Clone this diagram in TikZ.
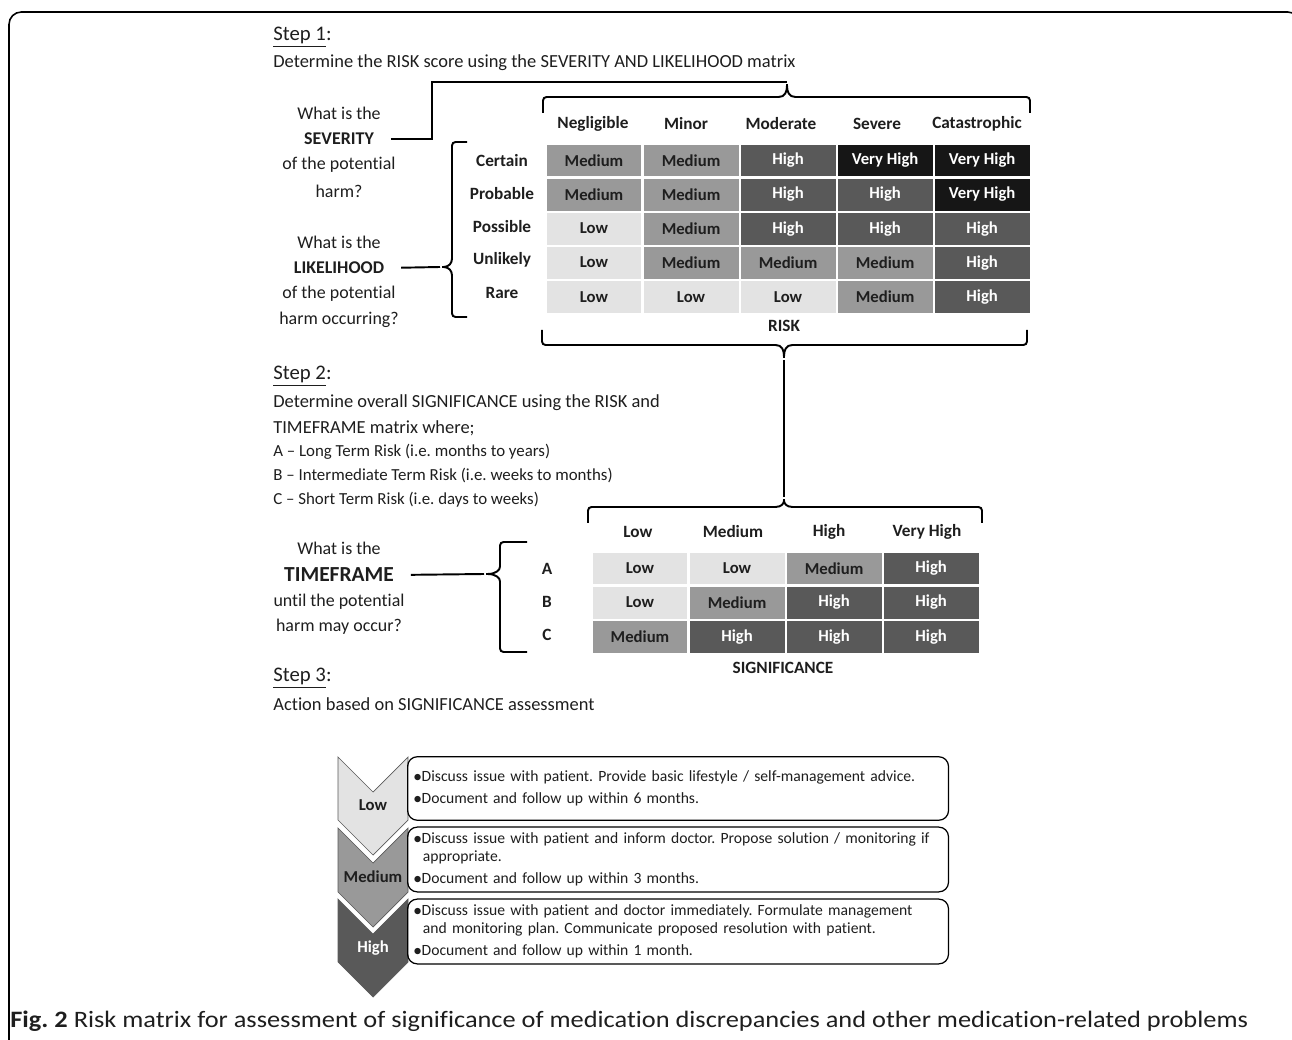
\documentclass[tikz,border=0pt]{standalone}
\usepackage{fontspec}
\setmainfont{Carlito}[Ligatures=NoCommon]
\newfontfamily\capfont{Carlito}[Ligatures=NoCommon,FakeStretch=1.12]
\usepackage{tikz}
\usetikzlibrary{positioning}
\frenchspacing
\def\CellW{1.92cm}
\def\CellH{0.66cm}
\def\BoxH{1.27cm}
\definecolor{lowgray}{HTML}{E3E3E3}
\definecolor{medgray}{HTML}{999999}
\definecolor{highgray}{HTML}{595959}
\definecolor{vhighgray}{HTML}{161616}
\definecolor{inkgray}{HTML}{1E1E1E}
\tikzset{
  cell/.style={draw=white,line width=0.6pt,minimum width=\CellW,minimum height=\CellH,inner sep=0pt,font=\fontsize{9.5}{11}\selectfont\bfseries},
  lo/.style={cell,fill=lowgray},
  med/.style={cell,fill=medgray},
  hi/.style={cell,fill=highgray,text=white},
  vhi/.style={cell,fill=vhighgray,text=white},
  hdr/.style={inner sep=1pt,font=\fontsize{9.8}{11}\selectfont\bfseries},
  body/.style={anchor=west,inner sep=0pt,font=\fontsize{10.5}{12}\selectfont},
  small/.style={anchor=west,inner sep=0pt,font=\fontsize{9.6}{11}\selectfont},
  stephead/.style={anchor=west,inner sep=0pt,font=\fontsize{11.8}{13}\selectfont},
  quest/.style={inner sep=1pt,font=\fontsize{10.2}{12}\selectfont},
  questkey/.style={inner sep=1pt,font=\fontsize{10.2}{12}\selectfont\bfseries},
  bracket/.style={line width=1.1pt,rounded corners=2pt},
  link/.style={line width=1.1pt},
  labellink/.style={link,shorten <=8.5pt},
  chev/.style={draw=gray!70!black,line width=0.4pt},
  actbox/.style={draw=black,line width=0.7pt,rounded corners=5.5pt,anchor=west,minimum height=\BoxH,text width=10.58cm,inner xsep=0.12cm,align=left,font=\fontsize{8.9}{10.3}\selectfont},
  chevlab/.style={inner sep=0pt,font=\fontsize{9.5}{11}\selectfont\bfseries}
}
\begin{document}
\begin{tikzpicture}[x=0.02cm,y=-0.02cm,text=inkgray]
  \clip (0,0) rectangle (1292,1040);
  \useasboundingbox (0,0) rectangle (1292,1040);
  % frame
  \draw[line width=0.9pt,rounded corners=7pt] (9,1060) -- (9,12) -- (1300,12) -- (1300,1060);
  %
  % Step 1
  \node[stephead] (step1) at (273,37) {\underline{Step 1}:};
  \node[body] (step1txt) at (273,63) {Determine the RISK score using the SEVERITY AND LIKELIHOOD matrix};
  %
  \node[quest] (sevq1) at (339,113) {What is the};
  \node[questkey] (sev) at (339,139) {SEVERITY};
  \node[quest] (sevq3) at (339,165) {of the potential};
  \node[quest] (sevq4) at (339,191) {harm?};
  \node[quest] (likq1) at (339,242) {What is the};
  \node[questkey] (lik) at (339,268) {LIKELIHOOD};
  \node[quest] (likq3) at (339,294) {of the potential};
  \node[quest] (likq4) at (339,320) {harm occurring?};
  %
  % severity headers
  \node[hdr] (cneg) at (593,124) {Negligible};
  \node[hdr] (cmin) at (686,124) {Minor};
  \node[hdr] (cmod) at (781,124) {Moderate};
  \node[hdr] (csev) at (877,124) {Severe};
  \node[hdr] (ccat) at (977,124) {Catastrophic};
  % likelihood labels
  \node[hdr] (lcer) at (502,160.5) {Certain};
  \node[hdr] (lpro) at (502,193.5) {Probable};
  \node[hdr] (lpos) at (502,226.5) {Possible};
  \node[hdr] (lunl) at (502,259.5) {Unlikely};
  \node[hdr] (lrar) at (502,292.5) {Rare};
  %
  % risk matrix
  \node[med] (r11) at (594,160.5) {Medium};
  \node[med,right=0pt of r11] (r12) {Medium};
  \node[hi,right=0pt of r12] (r13) {High};
  \node[vhi,right=0pt of r13] (r14) {Very High};
  \node[vhi,right=0pt of r14] (r15) {Very High};
  \node[med,below=0pt of r11] (r21) {Medium};
  \node[med,right=0pt of r21] (r22) {Medium};
  \node[hi,right=0pt of r22] (r23) {High};
  \node[hi,right=0pt of r23] (r24) {High};
  \node[vhi,right=0pt of r24] (r25) {Very High};
  \node[lo,below=0pt of r21] (r31) {Low};
  \node[med,right=0pt of r31] (r32) {Medium};
  \node[hi,right=0pt of r32] (r33) {High};
  \node[hi,right=0pt of r33] (r34) {High};
  \node[hi,right=0pt of r34] (r35) {High};
  \node[lo,below=0pt of r31] (r41) {Low};
  \node[med,right=0pt of r41] (r42) {Medium};
  \node[med,right=0pt of r42] (r43) {Medium};
  \node[med,right=0pt of r43] (r44) {Medium};
  \node[hi,right=0pt of r44] (r45) {High};
  \node[lo,below=0pt of r41] (r51) {Low};
  \node[lo,right=0pt of r51] (r52) {Low};
  \node[lo,right=0pt of r52] (r53) {Low};
  \node[med,right=0pt of r53] (r54) {Medium};
  \node[hi,right=0pt of r54] (r55) {High};
  \node[hdr] (risk) at (784,326) {RISK};
  %
  % braces of step 1
  \coordinate (sevtip) at (787,82);
  \coordinate (sevknee) at (432,82);
  \coordinate (liktip) at (440,267);
  \coordinate (risktip) at (784,360);
  \draw[bracket] (543,113) -- (543,97) -- (775,97) .. controls (785,97) and (787,92) .. (sevtip) .. controls (787,92) and (789,97) .. (799,97) -- (1030,97) -- (1030,113);
  \draw[bracket] (467,142) -- (452,142) -- (452,255) .. controls (452,263) and (449,267) .. (liktip) .. controls (449,267) and (452,271) .. (452,279) -- (452,317) -- (467,317);
  \draw[bracket] (542,330) -- (542,345) -- (772,345) .. controls (782,345) and (784,350) .. (risktip) .. controls (784,350) and (786,345) .. (796,345) -- (1027,345) -- (1027,330);
  \draw[labellink] (sev.east) -| (sevknee) -- (sevtip);
  \draw[labellink] (lik.east) -- (liktip);
  %
  % Step 2
  \node[stephead] (step2) at (273,376) {\underline{Step 2}:};
  \node[body] (step2a) at (273,403) {Determine overall SIGNIFICANCE using the RISK and};
  \node[body] (step2b) at (273,428) {TIMEFRAME matrix where;};
  \node[small] (terma) at (273,452) {A -- Long Term Risk (i.e. months to years)};
  \node[small] (termb) at (273,476) {B -- Intermediate Term Risk (i.e. weeks to months)};
  \node[small] (termc) at (273,500) {C -- Short Term Risk (i.e. days to weeks)};
  %
  \node[quest] (timq1) at (339,548) {What is the};
  \node[inner sep=1pt,font=\fontsize{12.2}{14}\selectfont\bfseries] (tim) at (339,575) {TIMEFRAME};
  \node[quest] (timq3) at (339,602) {until the potential};
  \node[quest] (timq4) at (339,627) {harm may occur?};
  %
  \node[hdr] (klow) at (638,532) {Low};
  \node[hdr] (kmed) at (733,532) {Medium};
  \node[hdr] (khig) at (829,532) {High};
  \node[hdr] (kvhi) at (927,532) {Very High};
  \node[hdr] (ta) at (547,568.5) {A};
  \node[hdr] (tb) at (547,601.5) {B};
  \node[hdr] (tc) at (547,634.5) {C};
  %
  % significance matrix
  \node[lo] (s11) at (640,568.5) {Low};
  \node[lo,right=0pt of s11] (s12) {Low};
  \node[med,right=0pt of s12] (s13) {Medium};
  \node[hi,right=0pt of s13] (s14) {High};
  \node[lo,below=0pt of s11] (s21) {Low};
  \node[med,right=0pt of s21] (s22) {Medium};
  \node[hi,right=0pt of s22] (s23) {High};
  \node[hi,right=0pt of s23] (s24) {High};
  \node[med,below=0pt of s21] (s31) {Medium};
  \node[hi,right=0pt of s31] (s32) {High};
  \node[hi,right=0pt of s32] (s33) {High};
  \node[hi,right=0pt of s33] (s34) {High};
  \node[hdr] (signif) at (783,668) {SIGNIFICANCE};
  %
  % braces of step 2
  \coordinate (sigtip) at (784,497);
  \coordinate (timtip) at (484,574);
  \draw[bracket] (588,523) -- (588,507) -- (772,507) .. controls (782,507) and (784,503) .. (sigtip) .. controls (784,503) and (786,507) .. (796,507) -- (982,507) -- (982,523);
  \draw[bracket] (527,542) -- (500,542) -- (500,563) .. controls (500,570) and (496,574) .. (timtip) .. controls (496,574) and (500,578) .. (500,585) -- (500,652) -- (527,652);
  \draw[link] (risktip) -- (sigtip);
  \draw[labellink] (tim.east) -- (timtip);
  %
  % Step 3
  \node[stephead] (step3) at (273,678) {\underline{Step 3}:};
  \node[body] (step3txt) at (273,704) {Action based on SIGNIFICANCE assessment};
  %
  \filldraw[chev,fill=lowgray] (338,757) -- (373,792) -- (408,757) -- (408,820) -- (373,855) -- (338,820) -- cycle;
  \filldraw[chev,fill=medgray] (338,828) -- (373,863) -- (408,828) -- (408,892) -- (373,927) -- (338,892) -- cycle;
  \filldraw[chev,fill=highgray] (338,899) -- (373,934) -- (408,899) -- (408,962) -- (373,997) -- (338,962) -- cycle;
  \node[chevlab] (alow) at (373,805) {Low};
  \node[chevlab] (amed) at (373,877) {Medium};
  \node[chevlab,text=white] (ahig) at (373,948) {High};
  %
  \node[actbox] (boxlow) at (407,788.5) {$\bullet$Discuss issue with patient. Provide basic lifestyle / self-management advice.\\[2pt]$\bullet$Document and follow up within 6 months.};
  \node[actbox] (boxmed) at (407,859.5) {$\bullet$Discuss issue with patient and inform doctor. Propose solution / monitoring if\\\hspace*{0.6em}appropriate.\\[2pt]$\bullet$Document and follow up within 3 months.};
  \node[actbox] (boxhig) at (407,931.5) {$\bullet$Discuss issue with patient and doctor immediately. Formulate management\\\hspace*{0.6em}and monitoring plan. Communicate proposed resolution with patient.\\[2pt]$\bullet$Document and follow up within 1 month.};
  %
  % caption
  \node[anchor=west,inner sep=0pt,font=\capfont\fontsize{13.4}{15}\selectfont] (caption) at (10,1021) {\textbf{Fig. 2} Risk matrix for assessment of significance of medication discrepancies and other medication-related problems};
\end{tikzpicture}
\end{document}
